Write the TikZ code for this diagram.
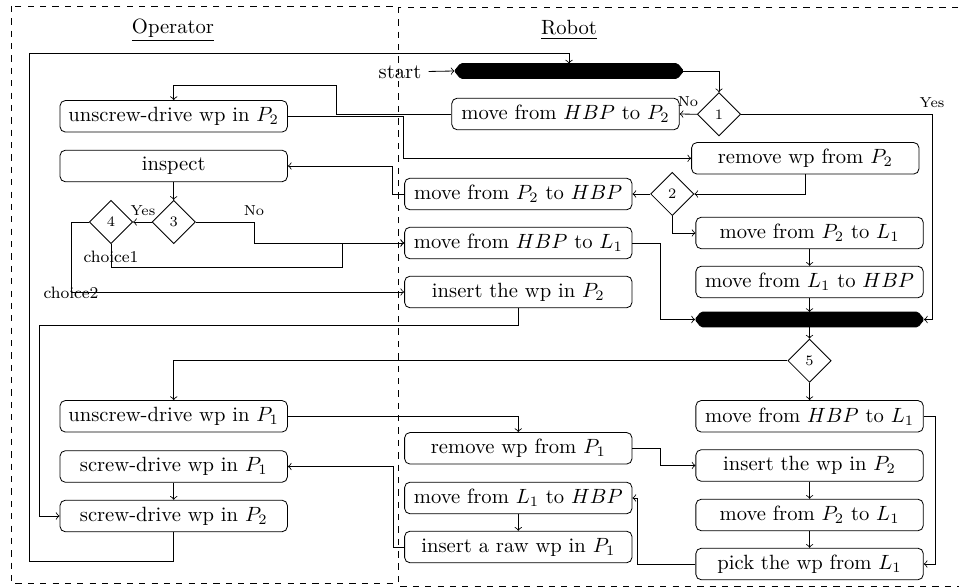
\documentclass[tikz,border=0pt]{standalone}
\usetikzlibrary{shapes.geometric}
\begin{document}
\begin{tikzpicture}[x=0.485pt,y=-0.485pt,
  box/.style={draw,rounded corners=2.6pt,minimum width=110.3pt,minimum height=15.3pt,inner sep=2pt},
  dia/.style={draw,diamond,minimum width=21pt,minimum height=21pt,inner sep=0pt,font=\scriptsize},
  barnode/.style={minimum width=110.6pt,minimum height=6.8pt,inner sep=0pt},
  barfill/.style={fill=black,draw=black,rounded corners=0.8pt},
  arr/.style={->},
  lab/.style={font=\scriptsize,inner sep=0pt},
  chlab/.style={font=\footnotesize,inner sep=0pt},
  lane/.style={dashed}]
\useasboundingbox (0,0) rectangle (959,588);
% lanes
\draw[lane] (11,6) rectangle (398,583);
\draw[lane] (398,7) rectangle (965,586);
\node (tOp) at (173,30) {\underline{Operator}};
\node (tRo) at (569,30) {\underline{Robot}};
% bars
\node[barnode] (bar1) at (569,71) {};
\fill[barfill] (bar1.west) -- ([xshift=2.9pt]bar1.north west) -- ([xshift=-2.9pt]bar1.north east) -- (bar1.east) -- ([xshift=-2.9pt]bar1.south east) -- ([xshift=2.9pt]bar1.south west) -- cycle;
\node[barnode] (bar2) at (809.5,319.5) {};
\fill[barfill] (bar2.west) -- ([xshift=2.9pt]bar2.north west) -- ([xshift=-2.9pt]bar2.north east) -- (bar2.east) -- ([xshift=-2.9pt]bar2.south east) -- ([xshift=2.9pt]bar2.south west) -- cycle;
\node (start) at (400,72) {start};
% operator nodes
\node[box] (oU2) at (173.7,116.3) {unscrew-drive wp in $P_2$};
\node[box] (oIns) at (173.7,166) {inspect};
\node[dia] (d3) at (173.7,222) {3};
\node[dia] (d4) at (111,222) {4};
\node[box] (oU1) at (173.7,416.3) {unscrew-drive wp in $P_1$};
\node[box] (oS1) at (173.7,466.5) {screw-drive wp in $P_1$};
\node[box] (oS2) at (173.7,516) {screw-drive wp in $P_2$};
% robot nodes
\node[dia] (d1) at (719,114.3) {1};
\node[box] (rHP2) at (565.5,114) {move from $HBP$ to $P_2$};
\node[box] (rRem2) at (805.3,158.3) {remove wp from $P_2$};
\node[dia] (d2) at (672.3,194) {2};
\node[box] (rP2H) at (518.3,194) {move from $P_2$ to $HBP$};
\node[box] (rP2L1) at (809.6,233) {move from $P_2$ to $L_1$};
\node[box] (rHL1) at (518.3,243) {move from $HBP$ to $L_1$};
\node[box] (rL1H) at (809.6,282) {move from $L_1$ to $HBP$};
\node[box] (rIns2) at (518.3,292) {insert the wp in $P_2$};
\node[dia] (d5) at (809.5,360.7) {5};
\node[box] (rHL1b) at (809.6,416.3) {move from $HBP$ to $L_1$};
\node[box] (rRem1) at (518.3,448.3) {remove wp from $P_1$};
\node[box] (rIns2b) at (809.6,465.5) {insert the wp in $P_2$};
\node[box] (rL1Hb) at (518.3,498) {move from $L_1$ to $HBP$};
\node[box] (rP2L1b) at (809.6,515) {move from $P_2$ to $L_1$};
\node[box] (rRaw) at (518.3,547) {insert a raw wp in $P_1$};
\node[box] (rPick) at (809.6,564) {pick the wp from $L_1$};
% labels
\node[lab] (lNo1) at (688,102) {No};
\node[lab] (lYes1) at (932,103) {Yes};
\node[lab] (lYes3) at (143,211) {Yes};
\node[lab] (lNo3) at (254,211) {No};
\node[chlab] (lc1) at (111,257) {choice1};
\node[chlab] (lc2) at (71,293) {choice2};
% connectors
\draw[arr] (start) -- (bar1.west);
\draw[arr] (oS2.south) -- (oS2.south |- 0,561) -- (29,561) -- (29,53) -- (bar1.north |- 0,53) -- (bar1.north);
\draw[arr] (bar1.east) -| (d1.north);
\draw[arr] (d1.west) -- (rHP2.east);
\draw[arr] (d1.east) -- (932,114.3) |- (bar2.east);
\draw[arr] (rHP2.west) -- (336,114) -- (336,85.3) -| (oU2.north);
\draw[arr] (oU2.east) -- (403.3,116.3) |- (rRem2.west);
\draw[arr] (rRem2.south) |- (d2.east);
\draw[arr] (d2.west) -- (rP2H.east);
\draw[arr] (d2.south) |- (rP2L1.west);
\draw[arr] (rP2L1) -- (rL1H);
\draw[arr] (rL1H) -- (bar2);
\draw[arr] (rP2H.west) -- (392.7,194) |- (oIns.east);
\draw[arr] (oIns) -- (d3);
\draw[arr] (d3) -- (d4);
\draw[arr] (d3.east) -- (254.3,222) |- (rHL1.west);
\draw[arr] (d4.south) |- (342.3,267.7) |- (rHL1.west);
\draw[arr] (d4.west) -- (71.7,222) |- (rIns2.west);
\draw[arr] (rHL1.east) -- (660.7,243) |- (bar2.west);
\draw[arr] (rIns2.south) |- (39,325) |- (oS2.west);
\draw[arr] (bar2) -- (d5);
\draw[arr] (d5.west) -| (oU1.north);
\draw[arr] (d5) -- (rHL1b);
\draw[arr] (oU1.east) -| (rRem1.north);
\draw[arr] (rRem1.east) -- (660.7,448.3) |- (rIns2b.west);
\draw[arr] (rHL1b.east) -- (935,416.3) |- (rPick.east);
\draw[arr] (rIns2b) -- (rP2L1b);
\draw[arr] (rP2L1b) -- (rPick);
\draw[arr] (rPick.west) -- (637.5,564) |- (rL1Hb.east);
\draw[arr] (rL1Hb) -- (rRaw);
\draw[arr] (rRaw.west) -- (393,547) |- (oS1.east);
\draw[arr] (oS1) -- (oS2);
\end{tikzpicture}
\end{document}
